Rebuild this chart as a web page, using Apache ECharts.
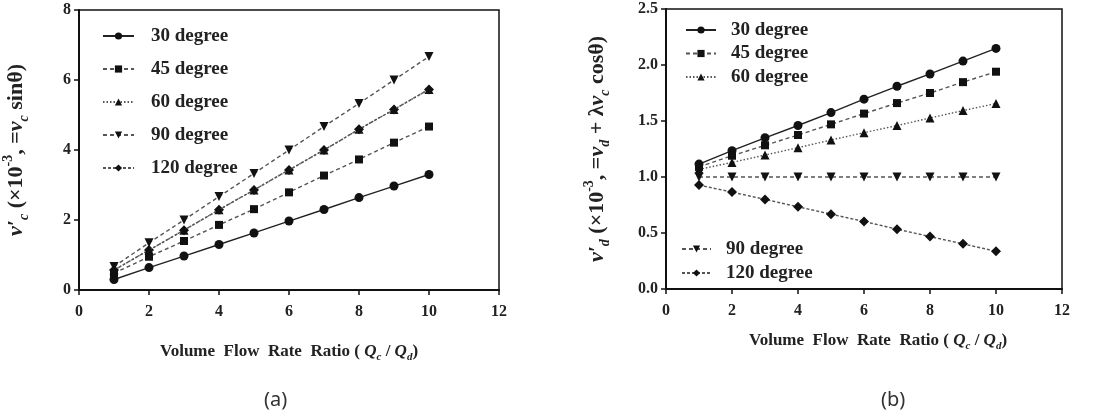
<!DOCTYPE html>
<html><head><meta charset="utf-8">
<script src="https://cdn.jsdelivr.net/npm/echarts@6/dist/echarts.min.js"></script>
<style>html,body{margin:0;padding:0;background:#fff}#c{width:1115px;height:419px}</style>
</head><body><div id="c"></div>
<script>
const xValues = [1,2,3,4,5,6,7,8,9,10];
const seriesNames = ['30 degree','45 degree','60 degree','90 degree','120 degree'];
// chart (a): v'c
const a30  = [0.30,0.64,0.97,1.30,1.63,1.97,2.30,2.64,2.97,3.30];
const a45  = [0.48,0.95,1.40,1.86,2.31,2.79,3.27,3.73,4.21,4.67];
const a60  = [0.57,1.14,1.71,2.29,2.86,3.43,4.00,4.59,5.16,5.73];
const a90  = [0.67,1.35,2.00,2.67,3.33,4.00,4.67,5.33,6.00,6.67];
const a120 = [0.57,1.14,1.71,2.29,2.86,3.43,4.00,4.59,5.16,5.73];
// chart (b): v'd
const b30  = [1.115,1.235,1.35,1.46,1.575,1.695,1.81,1.92,2.035,2.148];
const b45  = [1.09,1.19,1.283,1.375,1.47,1.566,1.66,1.75,1.847,1.94];
const b60  = [1.068,1.13,1.196,1.262,1.33,1.396,1.459,1.527,1.593,1.656];
const b90  = [1.0,1.0,1.0,1.0,1.0,1.0,1.0,1.0,1.0,1.0];
const b120 = [0.928,0.865,0.80,0.734,0.668,0.603,0.534,0.468,0.403,0.337];
const xTicksA = [0,2,4,6,8,10,12];
const yTicksA = [0,2,4,6,8];
const yTicksB = [0.0,0.5,1.0,1.5,2.0,2.5];

const serif = '"Liberation Serif", "DejaVu Serif", serif';
const downTri = 'path://M0,0 L10,0 L5,9 Z';
const styles = [
  {symbol:'circle', type:'solid', size:9},
  {symbol:'rect', type:[4,3], size:8},
  {symbol:'triangle', type:[1.5,2], size:9},
  {symbol:downTri, type:[4,3], size:9},
  {symbol:'diamond', type:[3,2], size:10}
];
const dataA = [a30,a45,a60,a90,a120];
const dataB = [b30,b45,b60,b90,b120];
function mk(values, idx, gi) {
  const s = styles[idx];
  return {
    name: seriesNames[idx], type:'line', xAxisIndex:gi, yAxisIndex:gi,
    data: xValues.map((x,i)=>[x, values[i]]),
    symbol: s.symbol, symbolSize: s.size, showSymbol:true,
    lineStyle:{color: idx===0 ? '#222' : '#555', width:1.4, type:s.type},
    itemStyle:{color:'#111'}, z: 10-idx, animation:false
  };
}
const series = [];
dataA.forEach((v,i)=>series.push(mk(v,i,0)));
dataB.forEach((v,i)=>series.push(mk(v,i,1)));

const tickLabel = {fontFamily:serif, fontWeight:'bold', fontSize:16, color:'#222'};
const axisLine = {show:true, lineStyle:{color:'#111', width:2}};
const axisTick = {show:true, inside:false, length:5, lineStyle:{color:'#111', width:1.5}};
const legendText = {fontFamily:serif, fontWeight:'bold', fontSize:19, color:'#222', lineHeight:20};

const nameRichBase = {fontFamily:serif, fontWeight:'bold', fontSize:22, color:'#222'};
const yRich = {
  n: Object.assign({}, nameRichBase, {lineHeight:30}),
  i: Object.assign({}, nameRichBase, {fontStyle:'italic', lineHeight:30}),
  sub: Object.assign({}, nameRichBase, {fontStyle:'italic', fontSize:14, verticalAlign:'bottom', lineHeight:30}),
  sup: Object.assign({}, nameRichBase, {fontSize:14, verticalAlign:'top', lineHeight:30})
};
const xRich = {
  n: Object.assign({}, nameRichBase, {fontSize:17, lineHeight:22}),
  i: Object.assign({}, nameRichBase, {fontSize:17, fontStyle:'italic', lineHeight:22}),
  sub: Object.assign({}, nameRichBase, {fontSize:11, fontStyle:'italic', verticalAlign:'bottom', lineHeight:22})
};
const xName = '{n|Volume  Flow  Rate  Ratio ( }{i|Q}{sub|c}{n| / }{i|Q}{sub|d}{n|)}';

const option = {
  backgroundColor:'#fff',
  animation:false,
  grid:[
    {left:78, top:10, width:421, height:280, show:true, borderColor:'#111', borderWidth:1.5, backgroundColor:'transparent'},
    {left:666, top:9, width:396, height:280, show:true, borderColor:'#111', borderWidth:1.5, backgroundColor:'transparent'}
  ],
  xAxis:[
    {gridIndex:0, type:'value', min:xTicksA[0], max:xTicksA[xTicksA.length-1], interval:2,
     axisLine, axisTick, splitLine:{show:false}, axisLabel:Object.assign({margin:14}, tickLabel),
     name:xName, nameLocation:'middle', nameGap:51, nameTextStyle:{rich:xRich}},
    {gridIndex:1, type:'value', min:xTicksA[0], max:xTicksA[xTicksA.length-1], interval:2,
     axisLine, axisTick, splitLine:{show:false}, axisLabel:Object.assign({margin:14}, tickLabel),
     name:xName, nameLocation:'middle', nameGap:41, nameTextStyle:{rich:xRich, padding:[0,0,0,28]}}
  ],
  yAxis:[
    {gridIndex:0, type:'value', min:yTicksA[0], max:yTicksA[yTicksA.length-1], interval:2,
     axisLine, axisTick, splitLine:{show:false}, axisLabel:Object.assign({margin:8}, tickLabel),
     name:"{i|v′}{sub|c}{n| (×10}{sup|-3}{n|, =}{i|v}{sub|c}{n| sinθ)}", nameLocation:'middle', nameRotate:90, nameGap:48,
     nameTextStyle:{rich:yRich}},
    {gridIndex:1, type:'value', min:yTicksB[0], max:yTicksB[yTicksB.length-1], interval:0.5,
     axisLine, axisTick, splitLine:{show:false},
     axisLabel:Object.assign({margin:8, formatter:v=>v.toFixed(1)}, tickLabel),
     name:"{i|v′}{sub|d}{n| (×10}{sup|-3}{n|, =}{i|v}{sub|d}{n| + λ}{i|v}{sub|c}{n| cosθ)}", nameLocation:'middle', nameRotate:90, nameGap:54,
     nameTextStyle:{rich:yRich}}
  ],
  legend:[
    {data:seriesNames, orient:'vertical', left:97, top:21, itemWidth:31, itemHeight:9, itemGap:13,
     textStyle:Object.assign({padding:[0,0,0,12]}, legendText), selectedMode:false},
    {data:seriesNames.slice(0,3), orient:'vertical', left:680, top:15, itemWidth:30, itemHeight:9, itemGap:3.5,
     textStyle:Object.assign({padding:[0,0,0,10]}, legendText), selectedMode:false},
    {data:seriesNames.slice(3), orient:'vertical', left:676, top:234, itemWidth:29, itemHeight:9, itemGap:4,
     textStyle:Object.assign({padding:[0,0,0,10]}, legendText), selectedMode:false}
  ],
  graphic:[
    {type:'text', left:264, top:390, style:{text:'(a)', font:'20px "Noto Sans", sans-serif', fill:'#333'}},
    {type:'text', left:881, top:390, style:{text:'(b)', font:'20px "Noto Sans", sans-serif', fill:'#333'}}
  ],
  series
};
const chart = echarts.init(document.getElementById('c'), null, {renderer:'canvas'});
chart.setOption(option);
</script>
</body></html>
